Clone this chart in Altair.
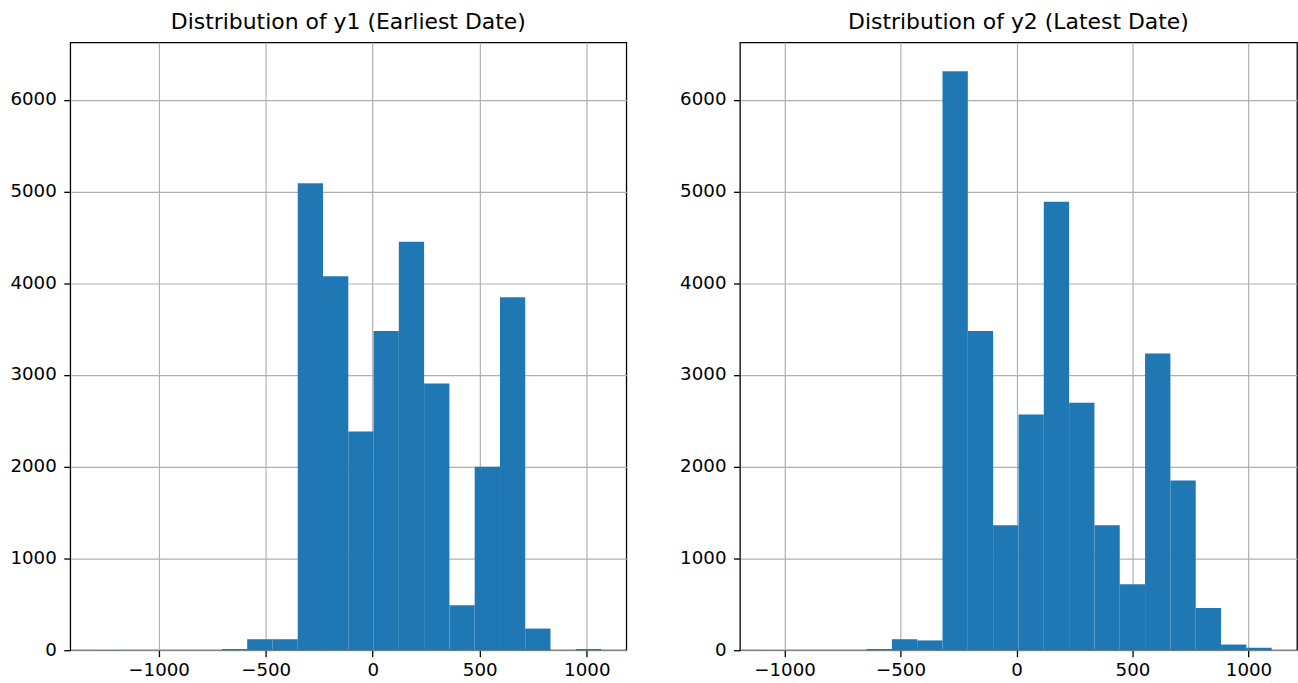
import altair as alt
import numpy as np
import pandas as pd

# Histogram of the earliest-date values (y1): 20 equal bins over the data range
y1_range = [-1294.5, 1066.5]
y1_counts = [1, 0, 0, 0, 0, 13, 120, 120, 5090, 4075,
             2383, 3480, 4453, 2907, 489, 2000, 3846, 236, 0, 13]

# Histogram of the latest-date values (y2): 20 equal bins over the data range
y2_range = [-1083.0, 1100.0]
y2_counts = [1, 0, 0, 0, 13, 120, 107, 6310, 3480, 1363,
             2568, 4888, 2696, 1363, 720, 3233, 1850, 460, 62, 27]

x_ticks = [-1000, -500, 0, 500, 1000]
y_ticks = [0, 1000, 2000, 3000, 4000, 5000, 6000]

BAR = "#1f77b4"
FONT = "DejaVu Sans"


def hist_frame(rng, counts):
    edges = np.linspace(rng[0], rng[1], len(counts) + 1)
    return pd.DataFrame({"start": edges[:-1], "end": edges[1:], "count": counts})


def padded(rng, frac=0.05):
    span = rng[1] - rng[0]
    return [rng[0] - frac * span, rng[1] + frac * span]


# both panels share the count axis
y_max = max(max(y1_counts), max(y2_counts)) * 1.05


def panel(rng, counts, title, width):
    df = hist_frame(rng, counts)
    return (
        alt.Chart(df)
        .mark_rect(color=BAR)
        .encode(
            x=alt.X(
                "start:Q",
                title=None,
                scale=alt.Scale(domain=padded(rng), nice=False, zero=False),
                axis=alt.Axis(values=x_ticks, format="d"),
            ),
            x2="end:Q",
            y=alt.Y(
                "count:Q",
                title=None,
                scale=alt.Scale(domain=[0, y_max], nice=False),
                axis=alt.Axis(values=y_ticks, format="d"),
            ),
            y2=alt.datum(0),
        )
        .properties(
            width=width,
            height=610,
            title=alt.TitleParams(
                title,
                font=FONT,
                fontSize=22,
                fontWeight="normal",
                color="#000000",
                anchor="middle",
                baseline="alphabetic",
                offset=-8.6,
            ),
        )
    )


left = panel(y1_range, y1_counts, "Distribution of y1 (Earliest Date)", 558)
right = panel(y2_range, y2_counts, "Distribution of y2 (Latest Date)", 559)

chart = (
    alt.hconcat(left, right, spacing=51)
    .properties(padding={"left": 8.5, "top": 8.3, "right": 0, "bottom": 0})
    .configure_view(stroke="#000000", strokeWidth=1.3)
    .configure_axis(
        zindex=1,
        domain=False,
        grid=True,
        gridColor="#b0b0b0",
        gridWidth=1.2,
        ticks=True,
        tickColor="#000000",
        tickWidth=1.3,
        tickSize=6.5,
        labelFont=FONT,
        labelFontSize=18.3,
        labelColor="#000000",
        labelFlush=False,
        labelOverlap=False,
    )
    .configure_axisX(labelPadding=5)
    .configure_axisY(labelPadding=7.5, minExtent=60, maxExtent=60)
)

chart.save("out.html", embed_options={"renderer": "svg", "actions": False})
